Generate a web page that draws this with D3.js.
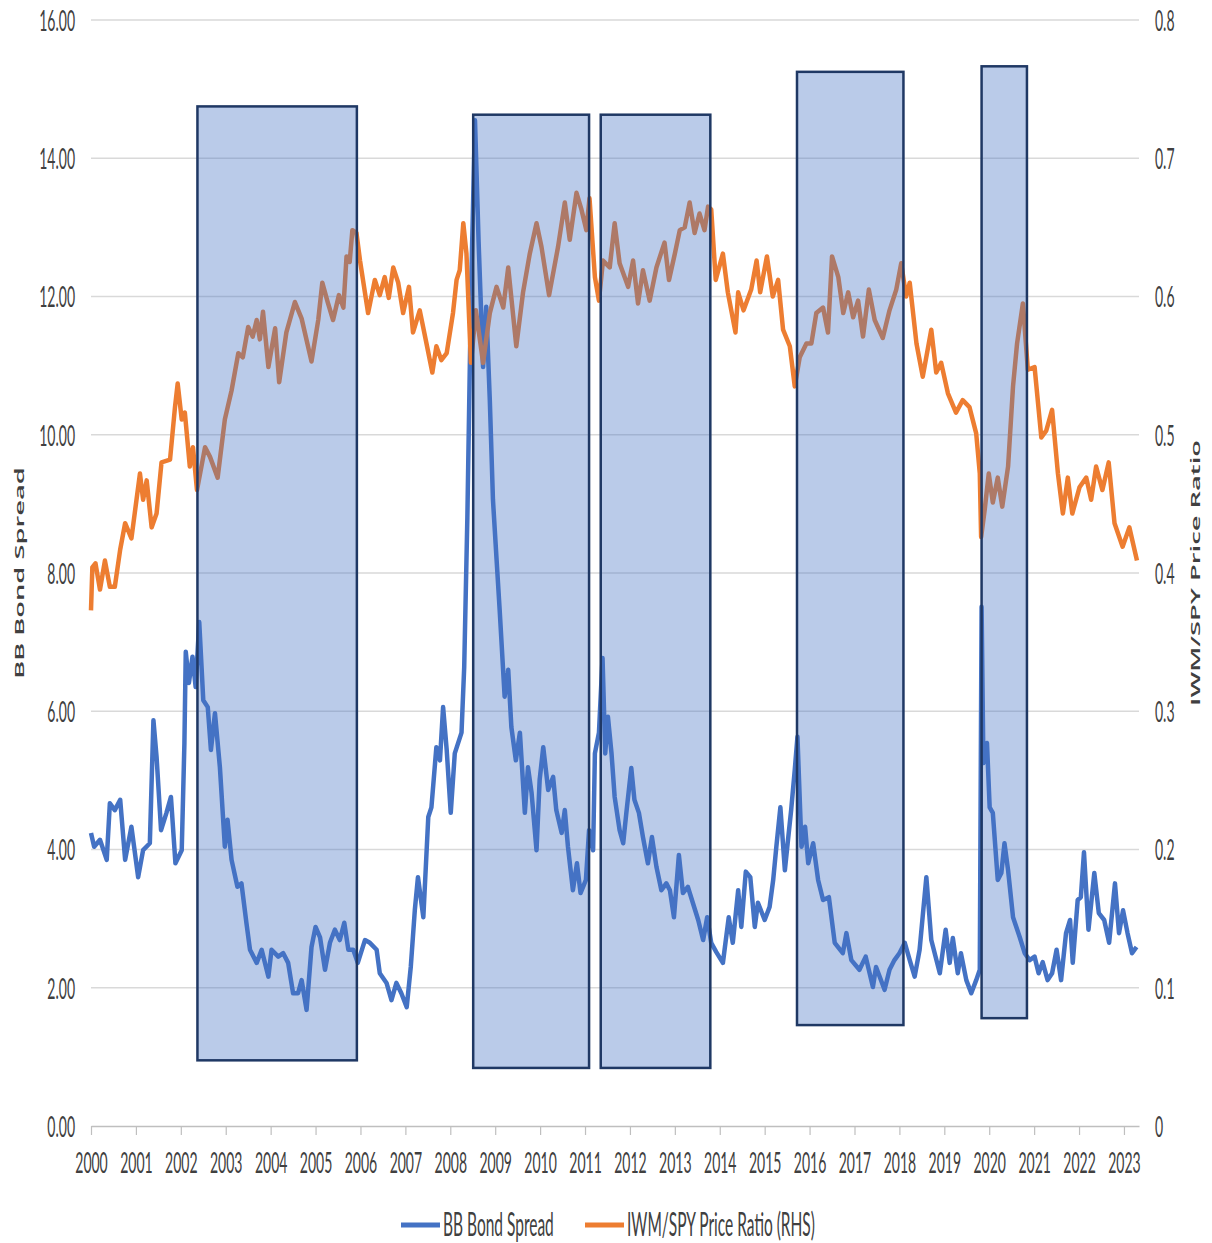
<!DOCTYPE html>
<html>
<head>
<meta charset="utf-8">
<script src="https://cdn.jsdelivr.net/npm/d3@7"></script>
<style>
    body { margin: 0; background: #fff; }
    svg { display: block; }
</style>
</head>
<body>
<svg id="chart"></svg>
<script>
// BB bond spread (left axis), decimal year / value
const spreadDates = [
    2000.00, 2000.07, 2000.20, 2000.35, 2000.42, 2000.53, 2000.65, 2000.76, 2000.90,
    2001.05, 2001.16, 2001.31, 2001.39, 2001.46, 2001.56, 2001.68, 2001.78, 2001.88,
    2002.02, 2002.08, 2002.11, 2002.18, 2002.26, 2002.33, 2002.41, 2002.50, 2002.60, 2002.67, 2002.76, 2002.87, 2002.98,
    2003.04, 2003.13, 2003.26, 2003.35, 2003.46, 2003.54, 2003.69, 2003.80, 2003.95,
    2004.02, 2004.17, 2004.28, 2004.39, 2004.50, 2004.61, 2004.69, 2004.80, 2004.91,
    2005.00, 2005.10, 2005.21, 2005.32, 2005.43, 2005.54, 2005.64, 2005.73, 2005.84, 2005.94,
    2006.10, 2006.21, 2006.36, 2006.43, 2006.58, 2006.69, 2006.80, 2006.91,
    2007.03, 2007.12, 2007.21, 2007.28, 2007.40, 2007.51, 2007.58, 2007.69, 2007.77, 2007.84, 2007.92,
    2008.01, 2008.10, 2008.25, 2008.31, 2008.38, 2008.46, 2008.55, 2008.63, 2008.73, 2008.80, 2008.88, 2008.95,
    2009.03, 2009.10, 2009.18, 2009.21, 2009.29, 2009.36, 2009.46, 2009.55, 2009.66, 2009.73, 2009.81, 2009.92, 2009.99,
    2010.07, 2010.18, 2010.29, 2010.36, 2010.48, 2010.55, 2010.62, 2010.73, 2010.82, 2010.90,
    2011.02, 2011.09, 2011.18, 2011.22, 2011.31, 2011.39, 2011.45, 2011.51, 2011.59, 2011.66, 2011.77, 2011.85, 2011.92,
    2012.03, 2012.10, 2012.20, 2012.29, 2012.40, 2012.49, 2012.59, 2012.70, 2012.81, 2012.89, 2012.98,
    2013.09, 2013.18, 2013.29, 2013.40, 2013.52, 2013.63, 2013.72, 2013.81, 2013.92,
    2014.07, 2014.20, 2014.29, 2014.41, 2014.48, 2014.58, 2014.68, 2014.78, 2014.85,
    2015.00, 2015.11, 2015.19, 2015.26, 2015.35, 2015.45, 2015.52, 2015.59, 2015.67, 2015.73, 2015.82, 2015.90, 2015.97,
    2016.08, 2016.19, 2016.30, 2016.43, 2016.56, 2016.74, 2016.82, 2016.93,
    2017.11, 2017.25, 2017.41, 2017.48, 2017.67, 2017.78, 2017.89,
    2018.00, 2018.12, 2018.23, 2018.34, 2018.45, 2018.60, 2018.71, 2018.90,
    2019.03, 2019.12, 2019.19, 2019.30, 2019.37, 2019.49, 2019.60, 2019.71, 2019.79, 2019.83, 2019.87, 2019.95,
    2020.01, 2020.08, 2020.19, 2020.27, 2020.34, 2020.42, 2020.53, 2020.68, 2020.79, 2020.90,
    2021.01, 2021.10, 2021.19, 2021.30, 2021.40, 2021.50, 2021.60, 2021.71, 2021.80, 2021.86, 2021.97,
    2022.04, 2022.11, 2022.21, 2022.34, 2022.44, 2022.56, 2022.67, 2022.80, 2022.89, 2022.98,
    2023.08, 2023.18, 2023.28
];
const spreadValues = [
    4.24, 4.04, 4.14, 3.85, 4.67, 4.57, 4.72, 3.85, 4.33,
    3.60, 3.99, 4.09, 5.87, 5.34, 4.28, 4.53, 4.76, 3.80,
    3.99, 5.54, 6.86, 6.41, 6.79, 6.35, 7.29, 6.16, 6.06, 5.44, 5.97, 5.19, 4.04,
    4.43, 3.85, 3.46, 3.51, 2.94, 2.55, 2.36, 2.55, 2.16,
    2.55, 2.45, 2.50, 2.36, 1.92, 1.92, 2.11, 1.68, 2.59,
    2.88, 2.73, 2.26, 2.65, 2.84, 2.69, 2.94, 2.55, 2.55, 2.36,
    2.69, 2.65, 2.55, 2.21, 2.07, 1.82, 2.07, 1.92,
    1.72, 2.30, 3.12, 3.60, 3.02, 4.47, 4.61, 5.48, 5.29, 6.06, 5.44,
    4.53, 5.39, 5.69, 6.64, 8.80, 12.00, 14.55, 12.80, 10.98, 11.85, 10.50, 9.06,
    8.20, 7.46, 6.55, 6.21, 6.60, 5.77, 5.29, 5.69, 4.53, 5.19, 4.82, 3.99, 5.01,
    5.48, 4.86, 5.05, 4.57, 4.24, 4.57, 4.04, 3.41, 3.80, 3.37,
    3.56, 4.28, 3.99, 5.39, 5.69, 6.77, 5.39, 5.92, 5.39, 4.76, 4.28, 4.09, 4.53,
    5.18, 4.72, 4.53, 4.18, 3.80, 4.18, 3.75, 3.41, 3.51, 3.41, 3.02,
    3.92, 3.37, 3.46, 3.23, 2.98, 2.69, 3.02, 2.65, 2.52,
    2.36, 3.02, 2.65, 3.41, 2.88, 3.68, 3.60, 2.88, 3.23,
    2.98, 3.17, 3.56, 4.04, 4.61, 3.70, 4.14, 4.57, 5.15, 5.63, 4.04, 4.33, 3.80,
    4.09, 3.56, 3.27, 3.31, 2.65, 2.50, 2.79, 2.40,
    2.26, 2.45, 2.01, 2.30, 1.97, 2.26, 2.40,
    2.50, 2.65, 2.40, 2.16, 2.55, 3.60, 2.69, 2.21,
    2.84, 2.36, 2.72, 2.21, 2.50, 2.11, 1.92, 2.11, 2.26, 7.51, 5.25, 5.54,
    4.61, 4.53, 3.56, 3.66, 4.09, 3.70, 3.02, 2.73, 2.50, 2.40,
    2.45, 2.21, 2.37, 2.11, 2.21, 2.55, 2.11, 2.79, 2.98, 2.36, 3.27,
    3.31, 3.96, 2.84, 3.66, 3.08, 2.98, 2.65, 3.51, 2.79, 3.12,
    2.79, 2.50, 2.59
];

// IWM/SPY price ratio (right axis)
const ratioDates = [
    2000.00, 2000.03, 2000.10, 2000.20, 2000.31, 2000.42, 2000.53, 2000.65, 2000.76, 2000.90,
    2001.09, 2001.16, 2001.24, 2001.35, 2001.46, 2001.57, 2001.76, 2001.87, 2001.93,
    2002.02, 2002.09, 2002.20, 2002.27, 2002.36, 2002.54, 2002.65, 2002.82, 2002.98,
    2003.13, 2003.28, 2003.38, 2003.50, 2003.60, 2003.69, 2003.76, 2003.83, 2003.95,
    2004.10, 2004.19, 2004.35, 2004.54, 2004.69, 2004.91,
    2005.06, 2005.15, 2005.27, 2005.39, 2005.52, 2005.62, 2005.69, 2005.76, 2005.82, 2005.91, 2005.99,
    2006.17, 2006.32, 2006.43, 2006.54, 2006.63, 2006.73, 2006.84, 2006.95,
    2007.08, 2007.17, 2007.32, 2007.47, 2007.60, 2007.69, 2007.80, 2007.92,
    2008.06, 2008.14, 2008.21, 2008.29, 2008.36, 2008.46, 2008.57, 2008.73, 2008.88,
    2009.03, 2009.18, 2009.29, 2009.47, 2009.62, 2009.77, 2009.92,
    2010.03, 2010.20, 2010.40, 2010.55, 2010.66, 2010.81, 2010.92,
    2011.03, 2011.10, 2011.22, 2011.31, 2011.40, 2011.55, 2011.66, 2011.77, 2011.96,
    2012.07, 2012.18, 2012.29, 2012.44, 2012.59, 2012.77, 2012.87,
    2013.00, 2013.11, 2013.22, 2013.33, 2013.44, 2013.55, 2013.66, 2013.74, 2013.81, 2013.91,
    2014.07, 2014.18, 2014.35, 2014.41, 2014.53, 2014.70, 2014.82, 2014.90,
    2015.05, 2015.18, 2015.30, 2015.41, 2015.56, 2015.67, 2015.78, 2015.93,
    2016.04, 2016.15, 2016.30, 2016.41, 2016.50, 2016.64, 2016.75, 2016.86, 2016.97,
    2017.08, 2017.19, 2017.32, 2017.45, 2017.63, 2017.78, 2017.93,
    2018.04, 2018.15, 2018.23, 2018.38, 2018.52, 2018.71, 2018.82, 2018.93,
    2019.08, 2019.26, 2019.41, 2019.56, 2019.71, 2019.79, 2019.82, 2019.90, 2019.99,
    2020.08, 2020.19, 2020.29, 2020.42, 2020.53, 2020.62, 2020.75, 2020.86,
    2021.01, 2021.16, 2021.27, 2021.40, 2021.53, 2021.64, 2021.75, 2021.85,
    2022.01, 2022.16, 2022.27, 2022.38, 2022.52, 2022.66, 2022.79, 2022.97,
    2023.12, 2023.29
];
const ratioValues = [
    0.373, 0.404, 0.407, 0.388, 0.409, 0.390, 0.390, 0.417, 0.436, 0.425,
    0.472, 0.453, 0.467, 0.433, 0.443, 0.480, 0.482, 0.520, 0.537,
    0.511, 0.516, 0.477, 0.491, 0.460, 0.491, 0.484, 0.469, 0.511,
    0.532, 0.559, 0.556, 0.578, 0.571, 0.583, 0.569, 0.589, 0.549,
    0.577, 0.538, 0.574, 0.596, 0.584, 0.553,
    0.583, 0.610, 0.596, 0.583, 0.601, 0.592, 0.629, 0.625, 0.648, 0.646, 0.626,
    0.588, 0.612, 0.601, 0.614, 0.599, 0.621, 0.610, 0.588,
    0.607, 0.574, 0.590, 0.566, 0.545, 0.564, 0.554, 0.559,
    0.588, 0.612, 0.619, 0.653, 0.631, 0.552, 0.590, 0.552, 0.588,
    0.607, 0.592, 0.621, 0.564, 0.603, 0.631, 0.653,
    0.636, 0.601, 0.636, 0.668, 0.641, 0.675, 0.663,
    0.648, 0.671, 0.614, 0.597, 0.626, 0.621, 0.653, 0.624, 0.607,
    0.626, 0.595, 0.619, 0.597, 0.621, 0.639, 0.612,
    0.631, 0.648, 0.650, 0.668, 0.646, 0.660, 0.648, 0.665, 0.663, 0.612,
    0.631, 0.603, 0.574, 0.603, 0.590, 0.605, 0.626, 0.603,
    0.629, 0.600, 0.612, 0.576, 0.564, 0.535, 0.556, 0.566,
    0.566, 0.588, 0.592, 0.574, 0.629, 0.614, 0.588, 0.603, 0.585,
    0.597, 0.571, 0.605, 0.583, 0.570, 0.590, 0.605,
    0.624, 0.600, 0.610, 0.566, 0.542, 0.576, 0.545, 0.552,
    0.530, 0.516, 0.525, 0.520, 0.501, 0.472, 0.426, 0.446, 0.472,
    0.451, 0.469, 0.448, 0.477, 0.535, 0.566, 0.595, 0.547,
    0.549, 0.498, 0.503, 0.518, 0.472, 0.443, 0.469, 0.443,
    0.462, 0.469, 0.453, 0.477, 0.460, 0.480, 0.436, 0.419,
    0.433, 0.409
];

// highlighted periods (left-axis units)
const boxStart  = [2002.37, 2008.51, 2011.35, 2015.72, 2019.83];
const boxEnd    = [2005.92, 2011.09, 2013.79, 2018.09, 2020.84];
const boxTop    = [14.75, 14.63, 14.63, 15.25, 15.33];
const boxBottom = [0.95, 0.84, 0.84, 1.46, 1.56];

const yearTicks = d3.range(2000, 2024);
const leftTicks = [0, 2, 4, 6, 8, 10, 12, 14, 16];
const rightTicks = [0, 0.1, 0.2, 0.3, 0.4, 0.5, 0.6, 0.7, 0.8];
const seriesNames = ['BB Bond Spread', 'IWM/SPY Price Ratio (RHS)'];
const axisTitles = ['BB Bond Spread', 'IWM/SPY Price Ratio'];

const width = 1212;
const height = 1243;
const margin = {top: 20, right: 73, bottom: 117, left: 91};
const innerWidth = width - margin.left - margin.right;
const innerHeight = height - margin.top - margin.bottom;
const SY = 2.1; // the picture is stretched vertically, its letters too
const BLUE = '#4472c4';
const ORANGE = '#ed7d31';
const TEXT = '#404040';

const xScale = d3.scaleLinear().domain([2000, 2023.335]).range([0, innerWidth]);
const yLeft = d3.scaleLinear().domain([0, 16]).range([innerHeight, 0]);
const yRight = d3.scaleLinear().domain([0, 0.8]).range([innerHeight, 0]);

const svg = d3.select('#chart')
    .attr('width', width)
    .attr('height', height);

const chartGroup = svg.append('g')
    .attr('transform', `translate(${margin.left}, ${margin.top})`);

// gridlines
chartGroup.append('g')
    .selectAll('line')
    .data(leftTicks.filter(d => d > 0))
    .enter()
    .append('line')
    .attr('x1', 0)
    .attr('x2', innerWidth)
    .attr('y1', d => yLeft(d))
    .attr('y2', d => yLeft(d))
    .attr('stroke', '#d9d9d9')
    .attr('stroke-width', 1.5);

// x axis
const xAxis = chartGroup.append('g')
    .attr('transform', `translate(0, ${innerHeight})`)
    .call(d3.axisBottom(xScale)
        .tickValues(yearTicks)
        .tickFormat(d3.format('d'))
        .tickSize(9)
        .tickSizeOuter(0));
xAxis.select('.domain').attr('stroke', '#bfbfbf').attr('stroke-width', 1.5);
xAxis.selectAll('.tick line').attr('stroke', '#bfbfbf').attr('stroke-width', 1.2);
xAxis.selectAll('.tick text')
    .attr('y', 0)
    .attr('dy', '0.35em')
    .attr('transform', `translate(0, 37) scale(1, ${SY})`);

// left axis
const leftAxis = chartGroup.append('g')
    .call(d3.axisLeft(yLeft)
        .tickValues(leftTicks)
        .tickFormat(d3.format('.2f'))
        .tickSize(0));
leftAxis.select('.domain').remove();
leftAxis.selectAll('.tick text')
    .attr('x', 0)
    .attr('dy', '0.35em')
    .attr('transform', `translate(-16, 0) scale(1, ${SY})`);

// right axis
const rightAxis = chartGroup.append('g')
    .attr('transform', `translate(${innerWidth}, 0)`)
    .call(d3.axisRight(yRight)
        .tickValues(rightTicks)
        .tickFormat(d => d === 0 ? '0' : d3.format('.1f')(d))
        .tickSize(0));
rightAxis.select('.domain').remove();
rightAxis.selectAll('.tick text')
    .attr('x', 0)
    .attr('dy', '0.35em')
    .attr('transform', `translate(16, 0) scale(1, ${SY})`);

chartGroup.selectAll('.tick text')
    .attr('fill', TEXT)
    .style('font-family', 'Lato, sans-serif')
    .style('font-size', '14px');

// axis titles, rotated and stretched along the reading direction
const titleX = [19, 1195];
axisTitles.forEach((t, i) => {
    svg.append('text')
        .attr('transform', `translate(${titleX[i]}, 573) rotate(-90) scale(${SY}, 1)`)
        .attr('text-anchor', 'middle')
        .attr('dy', '0.35em')
        .attr('fill', TEXT)
        .style('font-family', '"Open Sans", sans-serif')
        .style('font-size', '13px')
        .style('font-weight', 600)
        .text(t);
});

// series
const spreadData = spreadDates.map((d, i) => ({date: d, value: spreadValues[i]}));
const ratioData = ratioDates.map((d, i) => ({date: d, value: ratioValues[i]}));

chartGroup.append('path')
    .datum(spreadData)
    .attr('fill', 'none')
    .attr('stroke', BLUE)
    .attr('stroke-width', 4.5)
    .attr('stroke-linejoin', 'round')
    .attr('d', d3.line()
        .x(d => xScale(d.date))
        .y(d => yLeft(d.value)));

chartGroup.append('path')
    .datum(ratioData)
    .attr('fill', 'none')
    .attr('stroke', ORANGE)
    .attr('stroke-width', 4.5)
    .attr('stroke-linejoin', 'round')
    .attr('d', d3.line()
        .x(d => xScale(d.date))
        .y(d => yRight(d.value)));

// shaded boxes on top
chartGroup.append('g')
    .selectAll('rect')
    .data(boxStart.map((d, i) => ({x0: d, x1: boxEnd[i], top: boxTop[i], bottom: boxBottom[i]})))
    .enter()
    .append('rect')
    .attr('x', d => xScale(d.x0))
    .attr('y', d => yLeft(d.top))
    .attr('width', d => xScale(d.x1) - xScale(d.x0))
    .attr('height', d => yLeft(d.bottom) - yLeft(d.top))
    .attr('fill', BLUE)
    .attr('fill-opacity', 0.37)
    .attr('stroke', '#1f3864')
    .attr('stroke-width', 2.5);

// legend
const legend = svg.append('g')
    .attr('transform', 'translate(0, 1225)');
const legendX = [401, 585];
const legendColors = [BLUE, ORANGE];

seriesNames.forEach((name, i) => {
    legend.append('line')
        .attr('x1', legendX[i])
        .attr('x2', legendX[i] + 39)
        .attr('y1', 0)
        .attr('y2', 0)
        .attr('stroke', legendColors[i])
        .attr('stroke-width', 5);

    legend.append('text')
        .attr('transform', `translate(${legendX[i] + 42}, 0) scale(1, ${SY})`)
        .attr('dy', '0.35em')
        .attr('fill', TEXT)
        .style('font-family', 'Lato, sans-serif')
        .style('font-size', '15.5px')
        .text(name);
});
</script>
</body>
</html>
